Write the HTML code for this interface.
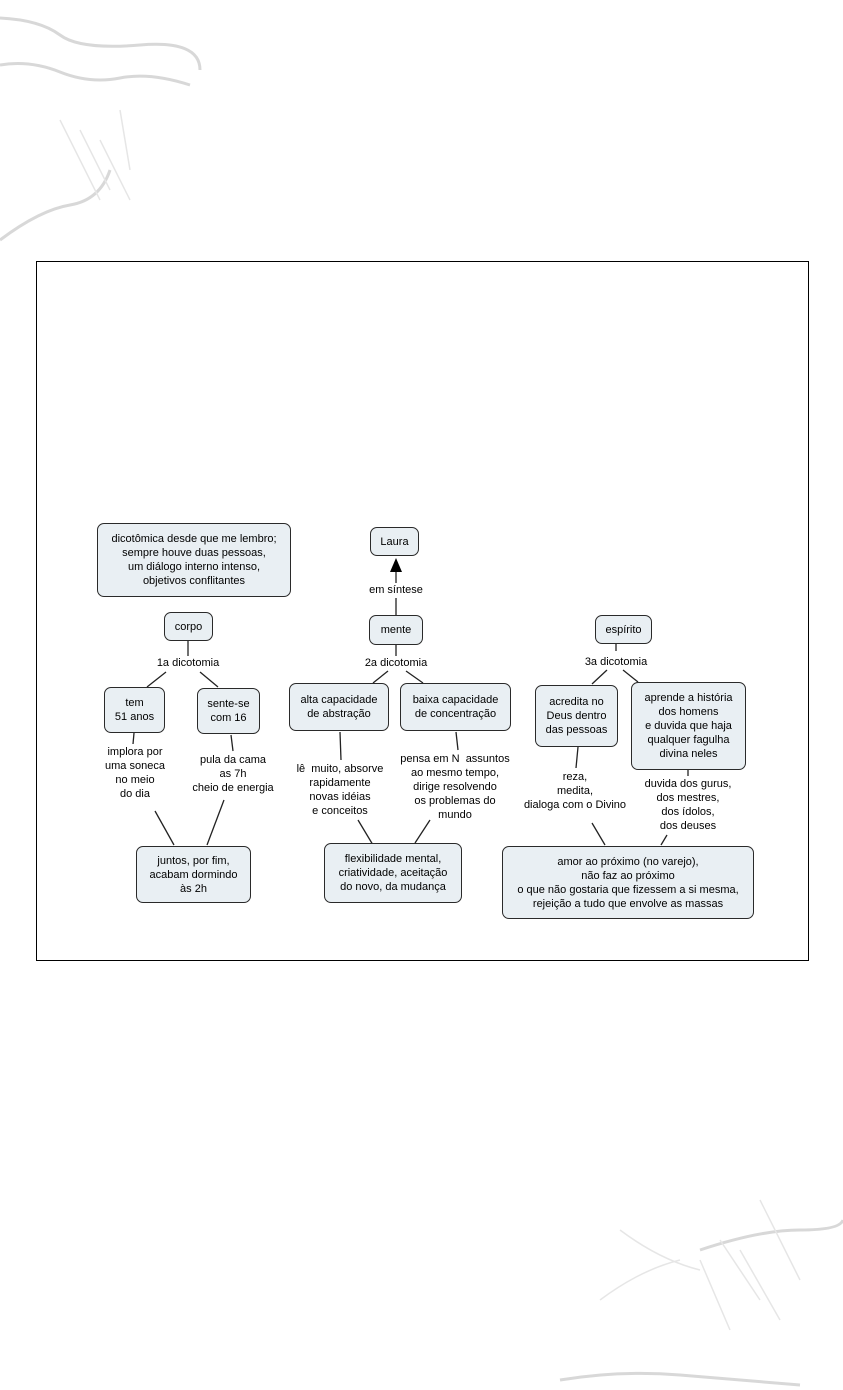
<!DOCTYPE html>
<html><head><meta charset="utf-8">
<style>
body{margin:0;width:843px;height:1390px;background:#fff;position:relative;overflow:hidden;font-family:"Liberation Sans",sans-serif;}
.b{position:absolute;box-sizing:border-box;background:#e9eff3;border:1.5px solid #2a2a2a;border-radius:7px;display:flex;align-items:center;justify-content:center;text-align:center;font-size:11px;line-height:14px;color:#000;white-space:nowrap;}
.t{position:absolute;text-align:center;font-size:11px;line-height:14px;color:#000;white-space:nowrap;transform:translateX(-50%);}
#frame{position:absolute;left:36px;top:261px;width:773px;height:700px;border:1px solid #000;box-sizing:border-box;background:#fff;}
svg{position:absolute;left:0;top:0;}
</style></head><body>
<svg width="843" height="1390">
<g fill="none" stroke="#d8d8d8" stroke-width="3">
<path d="M0 18 Q40 20 60 35 T140 45 T200 70"/>
<path d="M0 65 Q30 60 60 72 T120 78 T190 85"/>
<path d="M0 240 Q40 210 70 205 T110 170"/>
<path d="M560 1380 Q620 1370 680 1375 T800 1385"/>
<path d="M700 1250 Q760 1230 800 1230 T843 1220"/>
</g>
<g fill="none" stroke="#e6e6e6" stroke-width="1.5">
<path d="M60 120 L100 200 M80 130 L110 190 M100 140 L130 200 M120 110 L130 170"/>
<path d="M720 1240 L760 1300 M740 1250 L780 1320 M700 1260 L730 1330 M760 1200 L800 1280"/>
<path d="M600 1300 Q640 1270 680 1260 M620 1230 Q660 1260 700 1270"/>
</g>
</svg>
<div id="frame"></div>
<svg width="843" height="1390">
<g stroke="#222" stroke-width="1.3" fill="none">
<line x1="188" y1="640" x2="188" y2="656"/>
<line x1="166" y1="672" x2="147" y2="687"/>
<line x1="200" y1="672" x2="218" y2="687"/>
<line x1="134" y1="733" x2="133" y2="744"/>
<line x1="231" y1="735" x2="233" y2="751"/>
<line x1="155" y1="811" x2="174" y2="845"/>
<line x1="224" y1="800" x2="207" y2="845"/>
<line x1="396" y1="644" x2="396" y2="656"/>
<line x1="388" y1="671" x2="373" y2="683"/>
<line x1="406" y1="671" x2="423" y2="683"/>
<line x1="340" y1="732" x2="341" y2="760"/>
<line x1="456" y1="732" x2="458" y2="750"/>
<line x1="358" y1="820" x2="373" y2="845"/>
<line x1="430" y1="820" x2="415" y2="843"/>
<line x1="396" y1="615" x2="396" y2="598"/>
<line x1="396" y1="583" x2="396" y2="570"/>
<line x1="616" y1="643" x2="616" y2="651"/>
<line x1="607" y1="670" x2="592" y2="684"/>
<line x1="623" y1="670" x2="638" y2="682"/>
<line x1="578" y1="747" x2="576" y2="768"/>
<line x1="688" y1="770" x2="688" y2="776"/>
<line x1="592" y1="823" x2="605" y2="845"/>
<line x1="667" y1="835" x2="661" y2="845"/>
</g>
<polygon points="396,558 390,572 402,572" fill="#000"/>
</svg>

<div class="b" style="left:97px;top:523px;width:194px;height:74px;">dicotômica desde que me lembro;<br>sempre houve duas pessoas,<br>um diálogo interno intenso,<br>objetivos conflitantes</div>
<div class="b" style="left:370px;top:527px;width:49px;height:29px;">Laura</div>
<div class="t" style="left:396px;top:583px;">em síntese</div>
<div class="b" style="left:164px;top:612px;width:49px;height:29px;">corpo</div>
<div class="b" style="left:369px;top:615px;width:54px;height:30px;">mente</div>
<div class="b" style="left:595px;top:615px;width:57px;height:29px;">espírito</div>
<div class="t" style="left:188px;top:656px;">1a dicotomia</div>
<div class="t" style="left:396px;top:656px;">2a dicotomia</div>
<div class="t" style="left:616px;top:655px;">3a dicotomia</div>

<div class="b" style="left:104px;top:687px;width:61px;height:46px;">tem<br>51 anos</div>
<div class="b" style="left:197px;top:688px;width:63px;height:46px;">sente-se<br>com 16</div>
<div class="b" style="left:289px;top:683px;width:100px;height:48px;">alta capacidade<br>de abstração</div>
<div class="b" style="left:400px;top:683px;width:111px;height:48px;">baixa capacidade<br>de concentração</div>
<div class="b" style="left:535px;top:685px;width:83px;height:62px;">acredita no<br>Deus dentro<br>das pessoas</div>
<div class="b" style="left:631px;top:682px;width:115px;height:88px;">aprende a história<br>dos homens<br>e duvida que haja<br>qualquer fagulha<br>divina neles</div>

<div class="t" style="left:135px;top:745px;">implora por<br>uma soneca<br>no meio<br>do dia</div>
<div class="t" style="left:233px;top:753px;">pula da cama<br>as 7h<br>cheio de energia</div>
<div class="t" style="left:340px;top:762px;">lê &nbsp;muito, absorve<br>rapidamente<br>novas idéias<br>e conceitos</div>
<div class="t" style="left:455px;top:752px;">pensa em N &nbsp;assuntos<br>ao mesmo tempo,<br>dirige resolvendo<br>os problemas do<br>mundo</div>
<div class="t" style="left:575px;top:770px;">reza,<br>medita,<br>dialoga com o Divino</div>
<div class="t" style="left:688px;top:777px;">duvida dos gurus,<br>dos mestres,<br>dos ídolos,<br>dos deuses</div>

<div class="b" style="left:136px;top:846px;width:115px;height:57px;">juntos, por fim,<br>acabam dormindo<br>às 2h</div>
<div class="b" style="left:324px;top:843px;width:138px;height:60px;">flexibilidade mental,<br>criatividade, aceitação<br>do novo, da mudança</div>
<div class="b" style="left:502px;top:846px;width:252px;height:73px;">amor ao próximo (no varejo),<br>não faz ao próximo<br>o que não gostaria que fizessem a si mesma,<br>rejeição a tudo que envolve as massas</div>
</body></html>
